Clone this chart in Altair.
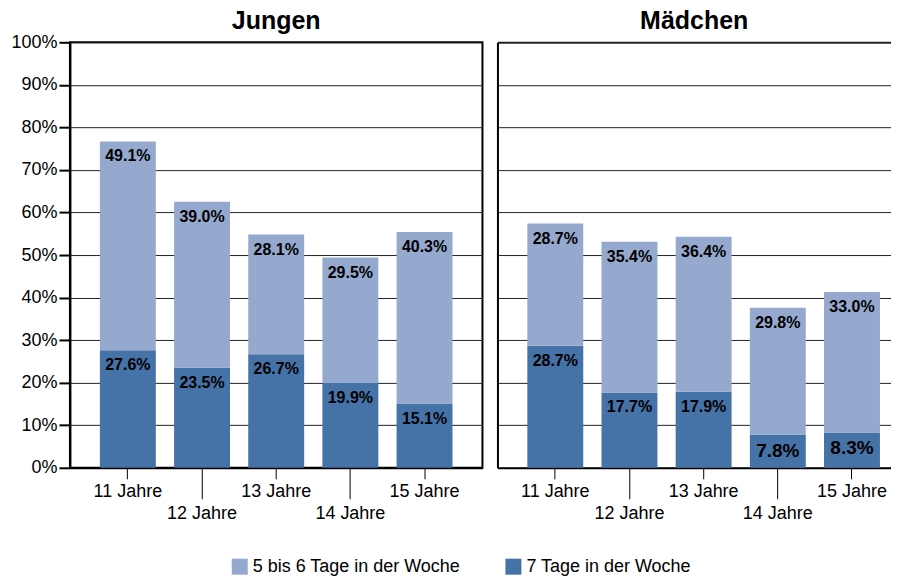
import altair as alt
import pandas as pd

ages = ["11 Jahre", "12 Jahre", "13 Jahre", "14 Jahre", "15 Jahre"]
groups = ["Jungen", "Mädchen"]
categories = ["5 bis 6 Tage in der Woche", "7 Tage in der Woche"]
colors = ["#95a9cf", "#4572a7"]

jungen_7 = [27.6, 23.5, 26.7, 19.9, 15.1]
jungen_5_6 = [49.1, 39.0, 28.1, 29.5, 40.3]
maedchen_7 = [28.7, 17.7, 17.9, 7.8, 8.3]
maedchen_5_6 = [28.7, 35.4, 36.4, 29.8, 33.0]

y_ticks = [0, 10, 20, 30, 40, 50, 60, 70, 80, 90, 100]


def make_df(v7, v56):
    rows = []
    for a, x7, x56 in zip(ages, v7, v56):
        rows.append({"age": a, "category": categories[1], "value": x7})
        rows.append({"age": a, "category": categories[0], "value": x56})
    return pd.DataFrame(rows)


df_j = make_df(jungen_7, jungen_5_6)
df_m = make_df(maedchen_7, maedchen_5_6)

FONT = "Liberation Sans"
low_test = "datum.value === '12 Jahre' || datum.value === '14 Jahre'"


def x_enc(pad_outer, align):
    return alt.X(
        "age:N", sort=ages,
        scale=alt.Scale(paddingInner=0.246, paddingOuter=pad_outer, align=align),
        axis=alt.Axis(
            title=None, labelAngle=0, labelFontSize=18, labelFont=FONT, labelColor="black",
            domainColor="black", domainWidth=2, tickColor="black", tickWidth=1,
            tickSize={"condition": {"test": low_test, "value": 31}, "value": 11},
            labelPadding={"condition": {"test": low_test, "value": 6}, "value": 4},
            labelBaseline="top",
        ),
    )


def y_enc(show_labels):
    if show_labels:
        axis = alt.Axis(
            values=y_ticks, labelExpr="datum.value + '%'", title=None,
            labelFontSize=18, labelFont=FONT, labelColor="black",
            tickSize=11, tickWidth=2, tickColor="black",
            domainColor="black", domainWidth=2, labelPadding=2,
            grid=True, gridColor="#222", gridWidth=1,
        )
    else:
        axis = alt.Axis(
            values=y_ticks, title=None, labels=False, ticks=False,
            domainColor="black", domainWidth=2,
            grid=True, gridColor="#222",
            gridWidth={"condition": {"test": "datum.value === 100", "value": 2}, "value": 1},
        )
    return alt.Y("y1:Q", scale=alt.Scale(domain=[0, 100], nice=False), axis=axis)


def panel(df, title, width, pad_outer, align, show_labels, view, title_offset):
    base = alt.Chart(df).transform_stack(
        stack="value", groupby=["age"], as_=["y0", "y1"],
        sort=[alt.SortField("category", order="descending")],
    ).transform_calculate(label="format(datum.value, '.1f') + '%'")

    xe = x_enc(pad_outer, align)
    bars = base.mark_bar().encode(
        x=xe,
        y=y_enc(show_labels),
        y2="y0:Q",
        color=alt.Color(
            "category:N",
            scale=alt.Scale(domain=categories, range=colors),
            legend=alt.Legend(
                title=None, orient="none", legendX=161, legendY=516,
                direction="horizontal", symbolType="square", symbolSize=256,
                symbolStrokeWidth=0, symbolOpacity=1, labelFontSize=18, labelFont=FONT,
                labelColor="black", labelOffset=4, columnPadding=44, padding=0,
                labelLimit=400,
            ),
        ),
    )
    text = base.mark_text(baseline="top", dy=7, fontWeight="bold", font=FONT, color="black").encode(
        x=alt.X("age:N", sort=ages),
        y=alt.Y("y1:Q"),
        text="label:N",
        size=alt.condition(alt.datum.value < 10, alt.value(19), alt.value(16)),
    )
    return alt.layer(bars, text).properties(
        width=width, height=426, view=view,
        title=alt.TitleParams(
            title, fontSize=25, font=FONT, fontWeight="bold", color="black",
            anchor="middle", baseline="alphabetic", offset=title_offset,
        ),
    )


left = panel(df_j, "Jungen", 413, 0.404, 0.5, True,
             alt.ViewBackground(stroke="black", strokeWidth=2), -21)
right = panel(df_m, "Mädchen", 394, 0.276, 0.73, False,
              alt.ViewBackground(stroke="transparent", strokeWidth=0), -12)

chart = alt.hconcat(left, right, spacing=14).properties(
    padding={"left": 1, "top": 0, "right": 0, "bottom": 0},
)

chart.save("out.html", embed_options={"renderer": "svg", "actions": False})
